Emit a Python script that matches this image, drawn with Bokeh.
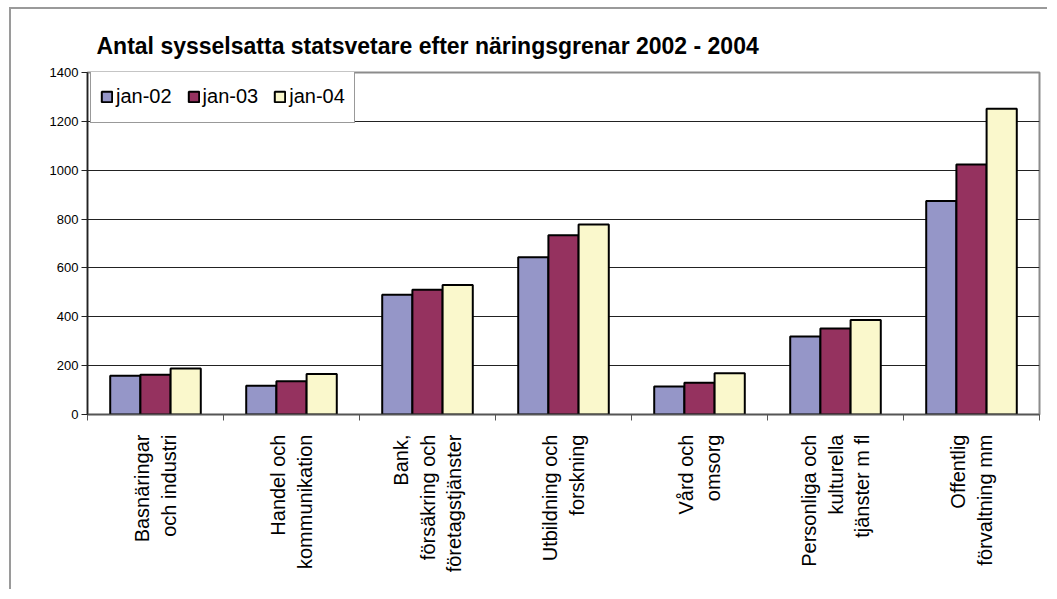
import math
from bokeh.plotting import figure
from bokeh.models import Range1d, FixedTicker, Legend, LegendItem
from bokeh.embed import file_html
from bokeh.resources import INLINE

categories = [
    "Basnäringar\noch industri",
    "Handel och\nkommunikation",
    "Bank,\nförsäkring och\nföretagstjänster",
    "Utbildning och\nforskning",
    "Vård och\nomsorg",
    "Personliga och\nkulturella\ntjänster m fl",
    "Offentlig\nförvaltning mm",
]
series_names = ["jan-02", "jan-03", "jan-04"]
jan02 = [159, 118, 490, 644, 115, 319, 874]
jan03 = [163, 136, 511, 734, 130, 352, 1023]
jan04 = [188, 166, 530, 778, 169, 387, 1252]
y_ticks = [0, 200, 400, 600, 800, 1000, 1200, 1400]

colors = ["#9596C8", "#95325F", "#FAF8CC"]
FONT = "Liberation Sans"

p = figure(width=1038, height=582, output_backend="svg", toolbar_location=None,
           x_range=Range1d(0, len(categories)), y_range=Range1d(0, 1400),
           min_border_left=76, min_border_right=10, min_border_top=63, min_border_bottom=177,
           title="Antal sysselsatta statsvetare efter näringsgrenar 2002 - 2004")
# outer chart-area border (left and top edges visible in the reference)
p.styles = {"margin-left": "9px", "margin-top": "7px",
            "border-left": "2px solid #9a9a9a", "border-top": "2px solid #9a9a9a"}
p.title.text_font = FONT
p.title.text_font_size = "23px"
p.title.text_font_style = "bold"
p.title.text_color = "black"
p.title.offset = 9
p.title.standoff = 27

p.outline_line_color = "#8c8c8c"
p.outline_line_width = 2
p.background_fill_color = "white"
p.border_fill_color = "white"

centers = [i + 0.5 for i in range(len(categories))]
bw = 0.222
offsets = [-bw, 0.0, bw]
renderers = []
for vals, off, col in zip([jan02, jan03, jan04], offsets, colors):
    r = p.vbar(x=[c + off for c in centers], top=vals, width=bw, bottom=0,
               fill_color=col, line_color="black", line_width=2)
    renderers.append(r)

legend = Legend(items=[LegendItem(label=n, renderers=[r]) for n, r in zip(series_names, renderers)],
                orientation="horizontal", location=(3, 291))
legend.label_text_font = FONT
legend.label_text_font_size = "20px"
legend.label_text_color = "black"
legend.label_text_line_height = 1.75
legend.glyph_width = 13
legend.glyph_height = 13
legend.label_standoff = 3
legend.spacing = 15
legend.padding = 9
legend.label_height = 33
legend.margin = 0
legend.border_line_color = "#333333"
legend.border_line_width = 1
legend.background_fill_alpha = 1
p.add_layout(legend)

# y axis
p.yaxis.ticker = FixedTicker(ticks=y_ticks)
p.yaxis.major_label_text_font = FONT
p.yaxis.major_label_text_font_size = "13px"
p.yaxis.major_label_text_color = "black"
p.yaxis.axis_line_color = "#222222"
p.yaxis.axis_line_width = 1.5
p.yaxis.major_tick_line_color = "#222222"
p.yaxis.major_tick_out = 6
p.yaxis.major_tick_in = 0
p.yaxis.minor_tick_line_color = None
p.yaxis.major_label_standoff = 3

# x axis: labels at centers, ticks at boundaries
p.xaxis.ticker = FixedTicker(ticks=centers, minor_ticks=list(range(len(categories) + 1)))
p.xaxis.major_label_overrides = {c: lab for c, lab in zip(centers, categories)}
p.xaxis.major_label_orientation = math.pi / 2
p.xaxis.major_label_text_font = FONT
p.xaxis.major_label_text_font_size = "20px"
p.xaxis.major_label_text_color = "black"
p.xaxis.major_label_text_line_height = 1.2
p.xaxis.major_tick_line_color = None
p.xaxis.major_tick_out = 0
p.xaxis.major_tick_in = 0
p.xaxis.major_label_standoff = 14
p.xaxis.minor_tick_line_color = "#555555"
p.xaxis.minor_tick_out = 6
p.xaxis.minor_tick_in = 0
p.xaxis.axis_line_color = "#555555"
p.xaxis.axis_line_width = 1.5

p.xgrid.grid_line_color = None
p.ygrid.ticker = FixedTicker(ticks=y_ticks)
p.ygrid.grid_line_color = "#222222"
p.ygrid.grid_line_width = 1

open("out.html", "w").write(file_html(p, INLINE))
